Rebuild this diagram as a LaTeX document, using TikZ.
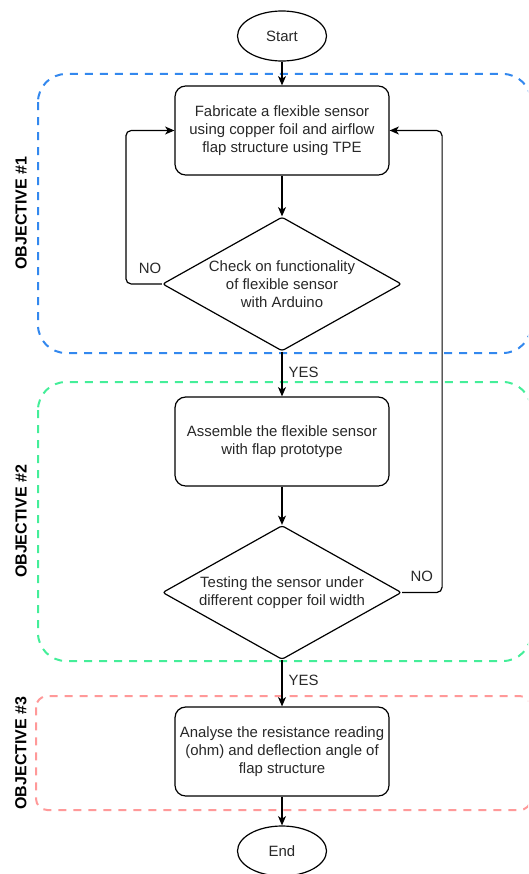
\documentclass[tikz,border=0pt]{standalone}
\usepackage{fontspec}
\setmainfont{Liberation Sans}
\usetikzlibrary{shapes.geometric, arrows.meta}

\definecolor{objblue}{RGB}{51,136,238}
\definecolor{objgreen}{RGB}{68,238,153}
\definecolor{objred}{RGB}{255,153,153}
\definecolor{textgray}{RGB}{40,40,40}

\tikzset{
    process/.style={draw, fill=white, line width=0.9pt, rounded corners=8pt, minimum width=160.5pt, minimum height=66.75pt, align=center, text=textgray},
    decision/.style={draw, fill=white, line width=0.9pt, diamond, shape aspect=1.78, rounded corners=2pt, minimum width=179.25pt, minimum height=100.5pt, inner sep=-2pt, align=center, text=textgray},
    terminal/.style={draw, fill=white, line width=0.9pt, ellipse, minimum width=66.75pt, minimum height=37.5pt, text=textgray},
    flow/.style={line width=0.9pt, -{Stealth[length=7pt, width=6pt, inset=2pt]}},
    objframe/.style={line width=1.5pt, dash pattern=on 6pt off 5.25pt},
    objlabel/.style={rotate=90, font=\fontsize{12}{14}\selectfont\bfseries},
    branch/.style={inner sep=0pt, text=textgray}
}

\begin{document}
\begin{tikzpicture}[x=0.75pt, y=-0.75pt, font=\fontsize{11.2}{13.7}\selectfont]
    \useasboundingbox (0,0) rectangle (528,874);
    \clip (0,0) rectangle (528,874);

    % objective frames
    \draw[objframe, objblue, rounded corners=21pt] (38,74) rectangle (531,353);
    \draw[objframe, objgreen, rounded corners=21pt] (38,382) rectangle (531,661);
    \draw[objframe, objred, rounded corners=8.5pt] (36,696) rectangle (531,810);
    \node[objlabel] (obj1) at (21,213) {OBJECTIVE \#1};
    \node[objlabel] (obj2) at (21,521.5) {OBJECTIVE \#2};
    \node[objlabel] (obj3) at (21,753) {OBJECTIVE \#3};

    % steps
    \node[terminal] (start) at (282,36) {Start};
    \node[process] (fab) at (282,130.5) {Fabricate a flexible sensor\\using copper foil and airflow\\flap structure using TPE};
    \node[decision] (check) at (282,284) {Check on functionality\\of flexible sensor\\with Arduino};
    \node[process] (assemble) at (282,441.5) {Assemble the flexible sensor\\with flap prototype};
    \node[decision] (test) at (282,592.5) {Testing the sensor under\\different copper foil width};
    \node[process] (analyse) at (282,751.5) {Analyse the resistance reading\\(ohm) and deflection angle of\\flap structure};
    \node[terminal] (end) at (282,851) {End};

    % connectors
    \draw[flow] (start) -- (fab);
    \draw[flow] (fab) -- (check);
    \draw[flow] (check) -- node[branch, right, xshift=4.5pt, yshift=1.5pt] {YES} (assemble);
    \draw[flow] (assemble) -- (test);
    \draw[flow] (test) -- node[branch, right, xshift=4.5pt, yshift=2pt] {YES} (analyse);
    \draw[flow] (analyse) -- (end);
    \draw[flow, rounded corners=4pt] (check.west) -- node[branch, pos=0, anchor=south east, yshift=7pt] {NO} ++(-36,0) |- (fab.west);
    \draw[flow, rounded corners=4pt] (test.east) -- node[branch, pos=0, anchor=south west, xshift=6pt, yshift=7.9pt] {NO} ++(40,0) |- (fab.east);
\end{tikzpicture}
\end{document}
